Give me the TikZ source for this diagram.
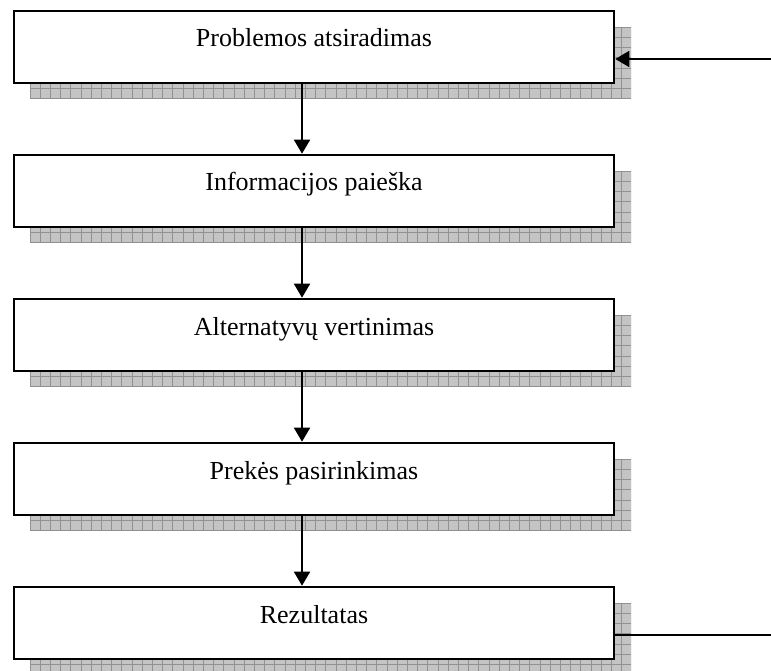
\documentclass[tikz,border=0pt]{standalone}
\usepackage{fontspec}
\setmainfont{Liberation Serif}
\usetikzlibrary{arrows.meta}
\definecolor{shadowgray}{RGB}{196,196,196}
\definecolor{shadowline}{RGB}{145,145,145}
\tikzset{
  stagebox/.style={draw=black, line width=2.6pt, fill=white,
    minimum width=600pt, minimum height=72pt, inner sep=0pt},
  stagetext/.style={anchor=base, inner sep=0pt, font=\fontsize{26}{30}\selectfont},
  flow/.style={line width=1.8pt, -{Triangle[width=16pt,length=14pt]}},
  shadowgrid/.style={draw=shadowline, line width=0.7pt},
}
\begin{document}
\begin{tikzpicture}[x=1pt,y=-1pt]
\useasboundingbox (0,0) rectangle (771,671);

% hatched drop shadows behind the stage boxes
\foreach \t in {11,155,299,443,587}{
  \begin{scope}
    \clip (30,\t+16) rectangle (631,\t+88);
    \fill[shadowgray] (30,\t+16) rectangle (631,\t+88);
    \foreach \gx in {30,40.2,...,632}{
      \draw[shadowgrid] (\gx,\t+16) -- (\gx,\t+88);
    }
    \foreach \gy in {6,16.2,...,90}{
      \draw[shadowgrid] (30,\t+\gy) -- (631,\t+\gy);
    }
  \end{scope}
}

% stage boxes
\node[stagebox] (b1) at (314,47) {};
\node[stagebox] (b2) at (314,191) {};
\node[stagebox] (b3) at (314,335) {};
\node[stagebox] (b4) at (314,479) {};
\node[stagebox] (b5) at (314,623) {};

% stage labels
\node[stagetext] (t1) at (b1.center) {Problemos atsiradimas};
\node[stagetext] (t2) at (b2.center) {Informacijos paieška};
\node[stagetext] (t3) at (b3.center) {Alternatyvų vertinimas};
\node[stagetext] (t4) at (b4.center) {Prekės pasirinkimas};
\node[stagetext] (t5) at (b5.center) {Rezultatas};

% flow between stages
\draw[flow] ([xshift=-12pt]b1.south) -- ([xshift=-12pt]b2.north);
\draw[flow] ([xshift=-12pt]b2.south) -- ([xshift=-12pt]b3.north);
\draw[flow] ([xshift=-12pt]b3.south) -- ([xshift=-12pt]b4.north);
\draw[flow] ([xshift=-12pt]b4.south) -- ([xshift=-12pt]b5.north);

% feedback loop ends
\coordinate (inlet) at (771,59);
\coordinate (outlet) at (771,635);
\draw[flow] (inlet) -- (b1.east |- inlet);
\draw[line width=1.8pt] (b5.east |- outlet) -- (outlet);
\end{tikzpicture}
\end{document}
